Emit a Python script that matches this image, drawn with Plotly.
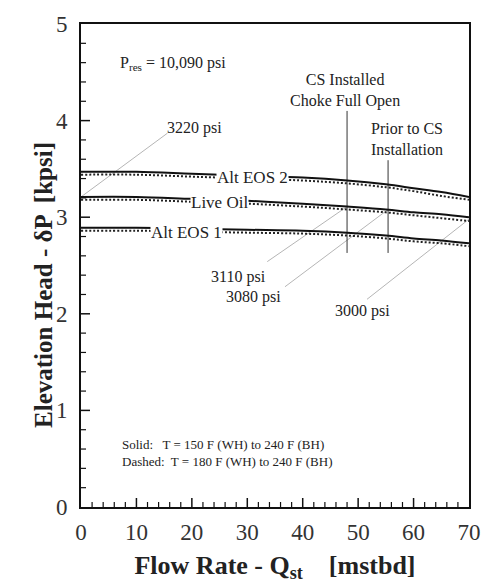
import plotly.graph_objects as go

# Flow rate grid [mstbd]
flow_rate = [0, 10, 20, 30, 40, 48, 55, 60, 65, 70]

# Elevation head [kpsi], solid: T = 150 F (WH) to 240 F (BH)
alt_eos2_solid = [3.47, 3.47, 3.45, 3.43, 3.41, 3.38, 3.34, 3.30, 3.26, 3.21]
live_oil_solid = [3.21, 3.21, 3.19, 3.17, 3.14, 3.11, 3.08, 3.05, 3.03, 3.00]
alt_eos1_solid = [2.89, 2.89, 2.88, 2.87, 2.86, 2.84, 2.81, 2.78, 2.76, 2.73]

# Elevation head [kpsi], dashed: T = 180 F (WH) to 240 F (BH)
alt_eos2_dashed = [3.44, 3.44, 3.42, 3.40, 3.38, 3.35, 3.31, 3.27, 3.22, 3.18]
live_oil_dashed = [3.18, 3.18, 3.16, 3.14, 3.11, 3.08, 3.05, 3.02, 2.99, 2.96]
alt_eos1_dashed = [2.86, 2.86, 2.85, 2.84, 2.83, 2.81, 2.78, 2.75, 2.73, 2.70]

curve_names = ["Alt EOS 2", "Live Oil", "Alt EOS 1"]
curve_label_x = [31.0, 25.0, 19.0]

# Operating points on the Live Oil curve and their wellhead pressures
op_flow = [0, 48, 55.4, 70]
op_head = [3.21, 3.11, 3.08, 2.98]
op_wellhead = ["3220 psi", "3110 psi", "3080 psi", "3000 psi"]
op_label_x = [20.5, 28.5, 31.2, 50.8]
op_label_y = [3.92, 2.38, 2.17, 2.03]
op_leader_end = [(15.6, 3.87), (33.6, 2.54), (36.8, 2.28), (51.6, 2.15)]

# Vertical markers for the two operating conditions
marker_flow = [48.0, 55.4]
marker_top = [4.10, 3.59]
marker_bottom = 2.63
marker_text = ["CS Installed<br>Choke Full Open", "Prior to CS<br>Installation"]
marker_text_xy = [(47.6, 4.31), (58.9, 3.81)]

# Axis tick positions (major / minor)
x_major = [0, 10, 20, 30, 40, 50, 60, 70]
x_minor_step = 2
y_major = [0, 1, 2, 3, 4, 5]
y_minor_step = 0.2

SERIF = "Liberation Serif, Times New Roman, serif"
INK = "#222222"

fig = go.Figure()

# Wellhead-pressure leader lines (thin gray)
for (x0, y0), x1, y1 in zip(op_leader_end, op_flow, op_head):
    fig.add_trace(go.Scatter(x=[x0, x1], y=[y0, y1], mode="lines",
                             line=dict(color="#b5b5b5", width=1),
                             hoverinfo="skip", showlegend=False))

# Vertical marker lines
for xm, yt in zip(marker_flow, marker_top):
    fig.add_trace(go.Scatter(x=[xm, xm], y=[marker_bottom, yt], mode="lines",
                             line=dict(color="#333333", width=1),
                             hoverinfo="skip", showlegend=False))

for ys, yd in [(alt_eos2_solid, alt_eos2_dashed),
               (live_oil_solid, live_oil_dashed),
               (alt_eos1_solid, alt_eos1_dashed)]:
    fig.add_trace(go.Scatter(x=flow_rate, y=yd, mode="lines",
                             line=dict(color="#222222", width=2, dash="2px,2px", shape="spline"),
                             showlegend=False))
    fig.add_trace(go.Scatter(x=flow_rate, y=ys, mode="lines",
                             line=dict(color="#111111", width=2, shape="spline"),
                             showlegend=False))

annotations = []

# Curve labels sitting on the lines
for name, lx, ys in zip(curve_names, curve_label_x, [alt_eos2_solid, live_oil_solid, alt_eos1_solid]):
    annotations.append(dict(x=lx, y=ys[2] - 0.035, text=name, showarrow=False,
                            bgcolor="white", borderpad=0,
                            font=dict(family=SERIF, size=17, color=INK)))

# Wellhead pressure labels
for t, lx, ly in zip(op_wellhead, op_label_x, op_label_y):
    annotations.append(dict(x=lx, y=ly, text=t, showarrow=False,
                            font=dict(family=SERIF, size=16, color=INK)))

for t, (tx, ty) in zip(marker_text, marker_text_xy):
    annotations.append(dict(x=tx, y=ty, text=t, showarrow=False,
                            font=dict(family=SERIF, size=16, color=INK)))

annotations.append(dict(x=16.6, y=4.59, text="P<sub>res</sub> = 10,090 psi", showarrow=False,
                        font=dict(family=SERIF, size=16, color=INK)))

annotations.append(dict(x=7.0, y=0.56, xanchor="left",
                        text="Solid:   T = 150 F (WH) to 240 F (BH)<br>Dashed:  T = 180 F (WH) to 240 F (BH)",
                        align="left", showarrow=False,
                        font=dict(family=SERIF, size=13, color=INK)))

# Y-axis title
annotations.append(dict(xref="paper", yref="paper", x=-0.135, y=0.46,
                        text="<b>Elevation Head - δP  [kpsi]</b>", textangle=-90,
                        showarrow=False, font=dict(family=SERIF, size=25, color=INK)))

# Inward tick marks along the bottom and left axes (pixel-length, data-positioned)
shapes = []
n_x = int(round((x_major[-1] - x_major[0]) / x_minor_step))
for i in range(1, n_x):
    xv = x_major[0] + i * x_minor_step
    major = any(abs(xv - m) < 1e-9 for m in x_major)
    shapes.append(dict(type="line", xref="x", yref="paper", ysizemode="pixel", yanchor=0,
                       x0=xv, x1=xv, y0=0, y1=9 if major else 5,
                       line=dict(color="#111111", width=1.5 if major else 1.2)))
n_y = int(round((y_major[-1] - y_major[0]) / y_minor_step))
for i in range(1, n_y):
    yv = y_major[0] + i * y_minor_step
    major = any(abs(yv - m) < 1e-9 for m in y_major)
    shapes.append(dict(type="line", xref="paper", yref="y", xsizemode="pixel", xanchor=0,
                       y0=yv, y1=yv, x0=0, x1=9 if major else 5,
                       line=dict(color="#111111", width=1.5 if major else 1.2)))

fig.update_layout(
    width=493, height=587,
    margin=dict(l=81, r=14, t=23, b=78),
    paper_bgcolor="white", plot_bgcolor="white",
    annotations=annotations, shapes=shapes,
    font=dict(family=SERIF, color=INK),
    showlegend=False,
)

fig.update_xaxes(
    range=[0, 70], tickmode="array", tickvals=x_major, ticks="", ticklabelstandoff=3,
    showline=True, linecolor="#111111", linewidth=2, mirror=True,
    showgrid=False, zeroline=False,
    tickfont=dict(family=SERIF, size=23, color="#333333"),
    title=dict(text="<b>Flow Rate - Q<sub>st</sub>    [mstbd]</b>", standoff=12,
               font=dict(family=SERIF, size=26, color=INK)),
)
fig.update_yaxes(
    range=[0, 5], tickmode="array", tickvals=y_major, ticks="", ticklabelstandoff=7,
    showline=True, linecolor="#111111", linewidth=2, mirror=True,
    showgrid=False, zeroline=False,
    tickfont=dict(family=SERIF, size=23, color="#333333"),
)

fig.write_html("out.html")
